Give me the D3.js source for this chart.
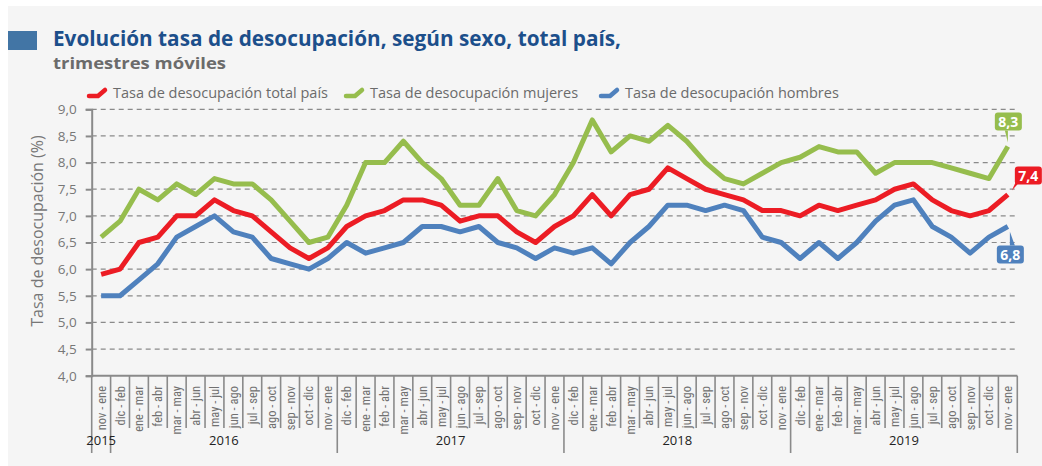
<!DOCTYPE html>
<html>
<head>
<meta charset="utf-8">
<script src="https://cdn.jsdelivr.net/npm/d3@7"></script>
<style>
  body { margin: 0; background: #fff; }
  svg { display: block; }
  text { font-family: 'Open Sans', 'Noto Sans', sans-serif; }
</style>
</head>
<body>
<figure style="margin:0"></figure>
<script>
const years = ['2015', '2016', '2017', '2018', '2019']
const periods = ['dic - feb', 'ene - mar', 'feb - abr', 'mar - may', 'abr - jun', 'may - jul',
  'jun - ago', 'jul - sep', 'ago - oct', 'sep - nov', 'oct - dic', 'nov - ene']
// first quarter belongs to 2015, then 12 per year
const categories = [{ year: '2015', label: 'nov - ene' }]
years.slice(1).forEach(y => periods.forEach(p => categories.push({ year: y, label: p })))

const total = [5.9, 6.0, 6.5, 6.6, 7.0, 7.0, 7.3, 7.1, 7.0, 6.7, 6.4, 6.2, 6.4, 6.8, 7.0, 7.1, 7.3,
  7.3, 7.2, 6.9, 7.0, 7.0, 6.7, 6.5, 6.8, 7.0, 7.4, 7.0, 7.4, 7.5, 7.9, 7.7, 7.5, 7.4, 7.3, 7.1,
  7.1, 7.0, 7.2, 7.1, 7.2, 7.3, 7.5, 7.6, 7.3, 7.1, 7.0, 7.1, 7.4]
const mujeres = [6.6, 6.9, 7.5, 7.3, 7.6, 7.4, 7.7, 7.6, 7.6, 7.3, 6.9, 6.5, 6.6, 7.2, 8.0, 8.0, 8.4,
  8.0, 7.7, 7.2, 7.2, 7.7, 7.1, 7.0, 7.4, 8.0, 8.8, 8.2, 8.5, 8.4, 8.7, 8.4, 8.0, 7.7, 7.6, 7.8,
  8.0, 8.1, 8.3, 8.2, 8.2, 7.8, 8.0, 8.0, 8.0, 7.9, 7.8, 7.7, 8.3]
const hombres = [5.5, 5.5, 5.8, 6.1, 6.6, 6.8, 7.0, 6.7, 6.6, 6.2, 6.1, 6.0, 6.2, 6.5, 6.3, 6.4, 6.5,
  6.8, 6.8, 6.7, 6.8, 6.5, 6.4, 6.2, 6.4, 6.3, 6.4, 6.1, 6.5, 6.8, 7.2, 7.2, 7.1, 7.2, 7.1, 6.6,
  6.5, 6.2, 6.5, 6.2, 6.5, 6.9, 7.2, 7.3, 6.8, 6.6, 6.3, 6.6, 6.8]
const yTicks = [4.0, 4.5, 5.0, 5.5, 6.0, 6.5, 7.0, 7.5, 8.0, 8.5, 9.0]

const series = [
  { name: 'Tasa de desocupación total país', values: total, color: '#ec1c24' },
  { name: 'Tasa de desocupación mujeres', values: mujeres, color: '#96bd4d' },
  { name: 'Tasa de desocupación hombres', values: hombres, color: '#4f81bd' }
]

const width = 1042
const height = 466
const fmt = d3.formatLocale({ decimal: ',', thousands: '.', grouping: [3], currency: ['', ''] }).format('.1f')

const svg = d3.select('figure').append('svg')
  .attr('width', width)
  .attr('height', height)

svg.append('rect')
  .attr('x', 8).attr('y', 6)
  .attr('width', width - 8).attr('height', height - 6)
  .attr('fill', '#f5f5f5')

// header
svg.append('rect')
  .attr('x', 8).attr('y', 31).attr('width', 29).attr('height', 19)
  .attr('fill', '#4275a5')
svg.append('text')
  .attr('x', 53).attr('y', 46)
  .attr('font-size', 21.5).attr('font-weight', 700)
  .attr('fill', '#1c4f8b')
  .attr('textLength', 568).attr('lengthAdjust', 'spacingAndGlyphs')
  .text('Evolución tasa de desocupación, según sexo, total país,')
svg.append('text')
  .attr('x', 53).attr('y', 69)
  .attr('font-size', 16.5).attr('font-weight', 700)
  .attr('fill', '#6b6b6b')
  .attr('textLength', 173).attr('lengthAdjust', 'spacingAndGlyphs')
  .text('trimestres móviles')

const x = d3.scaleBand()
  .domain(d3.range(categories.length))
  .range([91.7, 1017.3])
const y = d3.scaleLinear()
  .domain([4, 9])
  .range([375.7, 109.3])
const cx = i => x(i) + x.bandwidth() / 2

// grid
svg.append('g')
  .selectAll('line')
  .data(yTicks.slice(1))
  .join('line')
  .attr('x1', x.range()[0]).attr('x2', x.range()[1])
  .attr('y1', d => y(d)).attr('y2', d => y(d))
  .attr('stroke', '#8a8a8a').attr('stroke-width', 1.2)
  .attr('stroke-dasharray', '5,4')

// y axis
const yAxis = svg.append('g')
  .attr('transform', `translate(${x.range()[0]},0)`)
  .call(d3.axisLeft(y).tickValues(yTicks).tickFormat(fmt).tickSize(6).tickPadding(9))
yAxis.select('.domain').attr('stroke', '#8a8a8a').attr('stroke-width', 2)
yAxis.selectAll('.tick line').attr('stroke', '#8a8a8a').attr('stroke-width', 2)
yAxis.selectAll('.tick text')
  .attr('fill', '#777').attr('font-size', 13.5)
  .style('font-family', "'Open Sans', sans-serif")

svg.append('text')
  .attr('transform', 'translate(43,231) rotate(-90)')
  .attr('text-anchor', 'middle')
  .attr('font-size', 16).attr('fill', '#777')
  .text('Tasa de desocupación (%)')

// x axis: baseline, category separators, year separators
const xa = svg.append('g')
xa.append('line')
  .attr('x1', x.range()[0]).attr('x2', x.range()[1])
  .attr('y1', y(4)).attr('y2', y(4))
  .attr('stroke', '#8a8a8a').attr('stroke-width', 2)
xa.selectAll('line.sep')
  .data(d3.range(categories.length + 1))
  .join('line')
  .attr('class', 'sep')
  .attr('x1', i => i < categories.length ? x(i) : x.range()[1])
  .attr('x2', i => i < categories.length ? x(i) : x.range()[1])
  .attr('y1', y(4))
  .attr('y2', i => (i === 0 || i === categories.length || categories[i].year !== categories[i - 1].year) ? 453 : 428)
  .attr('stroke', '#8a8a8a').attr('stroke-width', 1.6)
xa.selectAll('text.cat')
  .data(categories)
  .join('text')
  .attr('class', 'cat')
  .attr('transform', (d, i) => `translate(${cx(i) + 4.5},386) rotate(-90)`)
  .attr('text-anchor', 'end')
  .attr('font-size', 12.5).attr('fill', '#707070')
  .style('font-family', "'Liberation Sans Narrow', 'Roboto Condensed', 'Open Sans', sans-serif")
  .text(d => d.label)

const yearGroups = years.map(yr => {
  const idx = categories.map((c, i) => c.year === yr ? i : -1).filter(i => i >= 0)
  return { year: yr, mid: (x(idx[0]) + x(idx[idx.length - 1]) + x.bandwidth()) / 2 }
})
xa.selectAll('text.year')
  .data(yearGroups)
  .join('text')
  .attr('class', 'year')
  .attr('x', d => d.mid).attr('y', 445)
  .attr('text-anchor', 'middle')
  .attr('font-size', 13).attr('fill', '#222')
  .text(d => d.year)

// lines
const line = d3.line()
  .x((d, i) => cx(i))
  .y(d => y(d))
svg.append('g')
  .selectAll('path')
  .data(series)
  .join('path')
  .attr('d', d => line(d.values))
  .attr('fill', 'none')
  .attr('stroke', d => d.color)
  .attr('stroke-width', 5)
  .attr('stroke-linejoin', 'round')

// legend
const legendX = [88, 345, 600]
const legend = svg.append('g')
  .selectAll('g')
  .data(series)
  .join('g')
  .attr('transform', (d, i) => `translate(${legendX[i]},0)`)
legend.append('path')
  .attr('d', 'M1,96 L10,96 L17,90')
  .attr('fill', 'none')
  .attr('stroke', d => d.color)
  .attr('stroke-width', 4.5)
  .attr('stroke-linecap', 'round')
  .attr('stroke-linejoin', 'round')
legend.append('text')
  .attr('x', 25).attr('y', 98)
  .attr('font-size', 14.5).attr('fill', '#6b6b6b')
  .text(d => d.name)

// end value callouts
const last = categories.length - 1
const callouts = [
  { s: series[1], dx: -13, dy: -34, tail: [[0, -16], [-3, -16], [0, -4]] },
  { s: series[0], dx: 7, dy: -28, tail: [[9, -15], [14, -15], [4, -4]] },
  { s: series[2], dx: -11, dy: 19, tail: [[2, 19], [7, 19], [2, 5]] }
]
const co = svg.append('g')
  .selectAll('g')
  .data(callouts)
  .join('g')
  .attr('transform', d => `translate(${cx(last)},${y(d.s.values[last])})`)
co.append('path')
  .attr('d', d => d3.line()(d.tail) + 'Z')
  .attr('fill', d => d.s.color)
co.append('rect')
  .attr('x', d => d.dx).attr('y', d => d.dy)
  .attr('width', 27).attr('height', 18).attr('rx', 3)
  .attr('fill', d => d.s.color)
co.append('text')
  .attr('x', d => d.dx + 13.5).attr('y', d => d.dy + 14)
  .attr('text-anchor', 'middle')
  .attr('font-size', 14).attr('font-weight', 700).attr('fill', '#fff')
  .text(d => fmt(d.s.values[last]))
</script>
</body>
</html>
